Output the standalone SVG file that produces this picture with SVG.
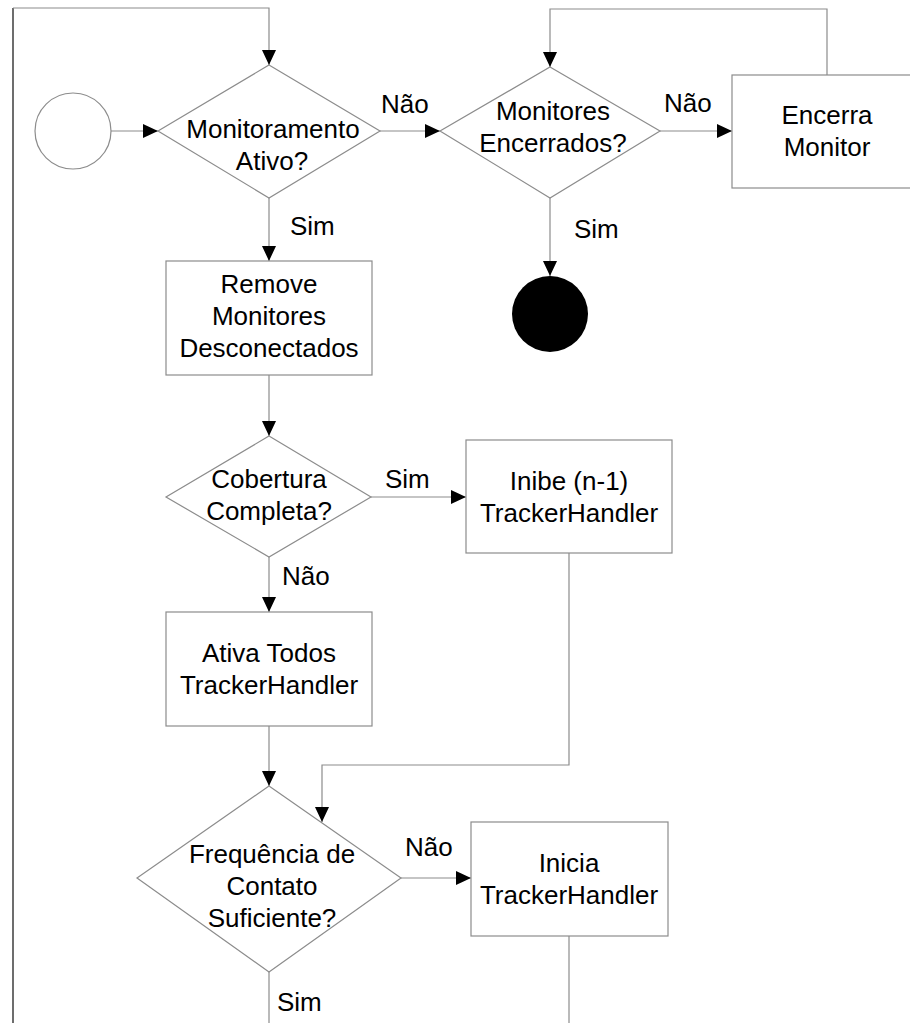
<svg xmlns="http://www.w3.org/2000/svg" width="910" height="1023" viewBox="0 0 910 1023">
<defs>
<marker id="arr" viewBox="0 0 15 14" refX="15" refY="7" markerWidth="15" markerHeight="14" markerUnits="userSpaceOnUse" orient="auto">
<path d="M0,0 L15,7 L0,14 Z" fill="#000"/>
</marker>
<style>
.shape{fill:#fff;stroke:#8c8c8c;stroke-width:1.2}
.conn{fill:none;stroke:#8c8c8c;stroke-width:1.2}
.dark{fill:none;stroke:#3c3c3c;stroke-width:1.5}
.t{font-family:"Liberation Sans",Arial,sans-serif;font-size:26px;fill:#000;text-anchor:middle}
.l{font-family:"Liberation Sans",Arial,sans-serif;font-size:26px;fill:#000}
</style>
</defs>
<rect width="910" height="1023" fill="#fff"/>

<g id="connectors">
<path class="dark" d="M13,1023 L13,8"/>
<path class="conn" d="M13,8 L269,8 L269,65" marker-end="url(#arr)"/>
<path class="conn" d="M111,131 L158,131" marker-end="url(#arr)"/>
<path class="conn" d="M380,131 L440,131" marker-end="url(#arr)"/>
<path class="conn" d="M660,131 L732,131" marker-end="url(#arr)"/>
<path class="conn" d="M827,75 L827,9 L550,9 L550,67" marker-end="url(#arr)"/>
<path class="conn" d="M550,198 L550,276" marker-end="url(#arr)"/>
<path class="conn" d="M269,198 L269,261" marker-end="url(#arr)"/>
<path class="conn" d="M269,375 L269,436" marker-end="url(#arr)"/>
<path class="conn" d="M371,497 L466,497" marker-end="url(#arr)"/>
<path class="conn" d="M269,557 L269,612" marker-end="url(#arr)"/>
<path class="conn" d="M269,726 L269,786" marker-end="url(#arr)"/>
<path class="conn" d="M569,553 L569,765 L322,765 L322,822" marker-end="url(#arr)"/>
<path class="conn" d="M401,878 L471,878" marker-end="url(#arr)"/>
<path class="conn" d="M269,972 L269,1023"/>
<path class="conn" d="M569,936 L569,1023"/>
<text class="l" x="381" y="113">Não</text>
<text class="l" x="290" y="235">Sim</text>
<text class="l" x="664" y="112">Não</text>
<text class="l" x="574" y="238">Sim</text>
<text class="l" x="385" y="488">Sim</text>
<text class="l" x="282" y="585">Não</text>
<text class="l" x="405" y="856">Não</text>
<text class="l" x="277" y="1011">Sim</text>
</g>

<g id="start">
<circle class="shape" cx="73" cy="131" r="38"/>
</g>

<g id="monitoramento-ativo">
<polygon class="shape" points="269,65 380,131 269,198 158,131"/>
<text class="t" x="273" y="138">Monitoramento</text>
<text class="t" x="272" y="170">Ativo?</text>
</g>

<g id="monitores-encerrados">
<polygon class="shape" points="550,67 660,131 550,198 440,131"/>
<text class="t" x="553" y="120">Monitores</text>
<text class="t" x="553" y="152">Encerrados?</text>
</g>

<g id="encerra-monitor">
<rect class="shape" x="732" y="75" width="190" height="113"/>
<text class="t" x="827" y="124">Encerra</text>
<text class="t" x="827" y="156">Monitor</text>
</g>

<g id="end">
<circle cx="550" cy="314" r="38" fill="#000"/>
</g>

<g id="remove-monitores">
<rect class="shape" x="166" y="261" width="206" height="114"/>
<text class="t" x="269" y="293">Remove</text>
<text class="t" x="269" y="325">Monitores</text>
<text class="t" x="269" y="357">Desconectados</text>
</g>

<g id="cobertura-completa">
<polygon class="shape" points="269,436 371,497 269,557 166,497"/>
<text class="t" x="269" y="488">Cobertura</text>
<text class="t" x="269" y="520">Completa?</text>
</g>

<g id="inibe">
<rect class="shape" x="466" y="440" width="206" height="113"/>
<text class="t" x="569" y="490">Inibe (n-1)</text>
<text class="t" x="569" y="522">TrackerHandler</text>
</g>

<g id="ativa-todos">
<rect class="shape" x="166" y="612" width="206" height="114"/>
<text class="t" x="269" y="662">Ativa Todos</text>
<text class="t" x="269" y="694">TrackerHandler</text>
</g>

<g id="frequencia-contato">
<polygon class="shape" points="269,786 401,878 269,972 137,878"/>
<text class="t" x="272" y="863">Frequência de</text>
<text class="t" x="272" y="895">Contato</text>
<text class="t" x="272" y="927">Suficiente?</text>
</g>

<g id="inicia">
<rect class="shape" x="471" y="822" width="197" height="114"/>
<text class="t" x="569" y="872">Inicia</text>
<text class="t" x="569" y="904">TrackerHandler</text>
</g>
</svg>
